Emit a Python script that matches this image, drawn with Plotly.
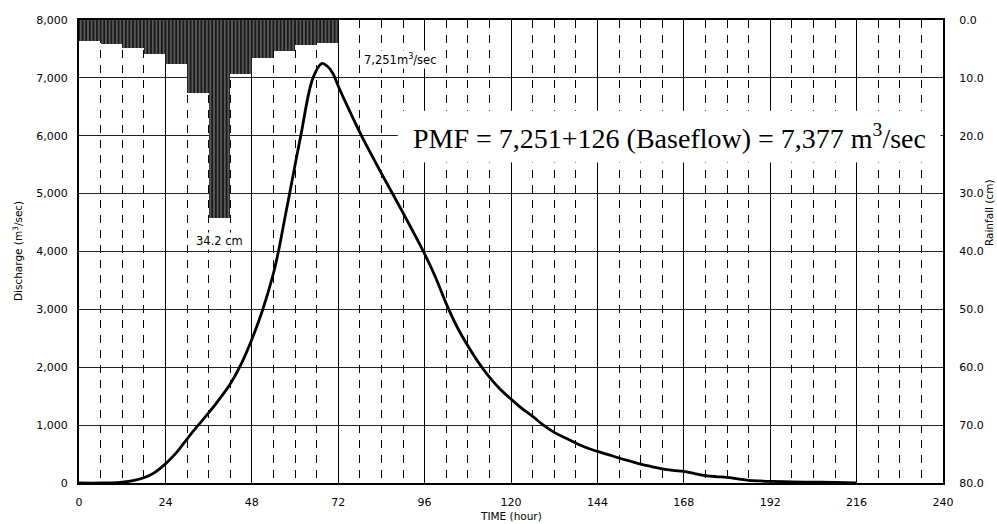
import plotly.graph_objects as go

# ---- data ----
# Rainfall: 6-hour blocks (start hour) and depth (cm)
rain_start_hour = [0, 6, 12, 18, 24, 30, 36, 42, 48, 54, 60, 66]
rain_cm = [3.7, 4.1, 4.8, 5.9, 7.6, 12.6, 34.2, 9.4, 6.6, 5.4, 4.4, 3.9]
rain_block_hours = 6

# Discharge hydrograph
hydro_time = [0, 6, 9, 12, 15, 18, 21, 24, 27, 30, 33, 36, 39, 42, 45, 48, 51, 54,
              55.5, 57, 58.5, 61.6, 65, 67.5, 69, 70.5, 72, 75, 78, 81, 84, 87, 90,
              93, 96, 99, 102, 105, 108, 111, 114, 117, 120, 123, 126, 129, 132,
              135, 138, 141, 144, 147, 150, 153, 156, 159, 162, 165, 168, 171, 174,
              177, 180, 183, 186, 189, 192, 198, 204, 210, 216]
hydro_q = [0, 0, 3, 15, 40, 90, 180, 330, 520, 760, 990, 1210, 1450, 1710, 2050,
           2480, 2990, 3620, 4030, 4520, 5000, 6000, 7000, 7251, 7200, 7080, 6860,
           6450, 6060, 5700, 5350, 5010, 4670, 4320, 3960, 3560, 3100, 2700, 2370,
           2080, 1830, 1620, 1450, 1290, 1151, 1000, 875, 780, 691, 610, 546, 490,
           432, 380, 328, 285, 245, 218, 200, 162, 128, 110, 98, 72, 46, 35, 28,
           20, 15, 10, 2]

x_ticks = [0, 24, 48, 72, 96, 120, 144, 168, 192, 216, 240]
peak_text = "7,251m<sup>3</sup>/sec"
max_rain_text = "34.2 cm"
pmf_text = "PMF = 7,251+126 (Baseflow) = 7,377 m<sup>3</sup>/sec"

SANS = "DejaVu Sans"
SERIF = "Liberation Serif"

fig = go.Figure()

fig.add_trace(go.Bar(
    x=rain_start_hour, y=rain_cm, width=rain_block_hours, offset=0,
    yaxis="y2",
    marker=dict(color="#111111", line=dict(width=0),
                pattern=dict(shape="|", fgcolor="#dddddd", bgcolor="#1a1a1a",
                             size=3.6, solidity=0.32)),
    showlegend=False, hoverinfo="skip",
))

fig.add_trace(go.Scatter(
    x=hydro_time, y=hydro_q, mode="lines",
    line=dict(color="black", width=2.8, shape="spline", smoothing=1.0),
    showlegend=False,
))

axis_font = dict(family=SANS, size=11, color="black")

fig.update_layout(
    width=997, height=524, autosize=False,
    margin=dict(l=79, r=54, t=20, b=41),
    paper_bgcolor="white", plot_bgcolor="white",
    bargap=0,
    xaxis=dict(
        range=[0, 240], tickvals=x_ticks, ticktext=[str(v) for v in x_ticks],
        showgrid=True, gridcolor="black", gridwidth=1,
        minor=dict(dtick=6, tick0=0, showgrid=True, gridcolor="black",
                   gridwidth=1, griddash="8px,7px"),
        showline=True, linecolor="black", linewidth=2, mirror=True,
        ticks="outside", ticklen=8, tickcolor="rgba(0,0,0,0)",
        tickfont=axis_font, zeroline=False,
    ),
    yaxis=dict(
        range=[0, 8000], dtick=1000, tick0=0, tickformat=",",
        showgrid=True, gridcolor="#222222", gridwidth=1,
        showline=True, linecolor="black", linewidth=2,
        ticks="outside", ticklen=7, tickcolor="rgba(0,0,0,0)",
        tickfont=axis_font, zeroline=False,
    ),
    yaxis2=dict(
        range=[80, 0], dtick=10, tick0=0, tickformat=".1f",
        overlaying="y", side="right", showgrid=False,
        showline=True, linecolor="black", linewidth=2,
        ticks="outside", ticklen=12, tickcolor="rgba(0,0,0,0)",
        tickfont=axis_font, zeroline=False,
    ),
    shapes=[
        dict(type="rect", xref="paper", yref="paper", x0=0.369, x1=0.997,
             y0=0.692, y1=0.804, fillcolor="white", line=dict(width=0),
             layer="above"),
    ],
    annotations=[
        dict(text=pmf_text, xref="paper", yref="paper", x=0.684, y=0.748,
             xanchor="center", yanchor="middle", showarrow=False,
             font=dict(family=SERIF, size=28, color="black")),
        dict(text=peak_text, xref="paper", yref="paper", x=0.3726, y=0.914,
             xanchor="center", yanchor="middle", showarrow=False,
             bgcolor="white", font=dict(family=SANS, size=11.5, color="black")),
        dict(text=max_rain_text, xref="paper", yref="paper", x=0.1629, y=0.522,
             xanchor="center", yanchor="middle", showarrow=False,
             bgcolor="white", font=dict(family=SANS, size=11.5, color="black")),
        dict(text="Discharge (m<sup>3</sup>/sec)", xref="paper", yref="paper",
             x=-0.0711, y=0.5, xanchor="center", yanchor="middle",
             textangle=-90, showarrow=False,
             font=dict(family=SANS, size=10.5, color="black")),
        dict(text="Rainfall (cm)", xref="paper", yref="paper",
             x=1.0526, y=0.584, xanchor="center", yanchor="middle",
             textangle=-90, showarrow=False,
             font=dict(family=SANS, size=10.5, color="black")),
        dict(text="TIME (hour)", xref="paper", yref="paper",
             x=0.5, y=-0.0706, xanchor="center", yanchor="middle",
             showarrow=False, font=dict(family=SANS, size=10.5, color="black")),
    ],
)

fig.write_html(
    "out.html",
    config={"displayModeBar": False},
    post_script="document.body.style.margin='0';document.body.style.padding='0';"
                "document.body.style.overflow='hidden';",
)
